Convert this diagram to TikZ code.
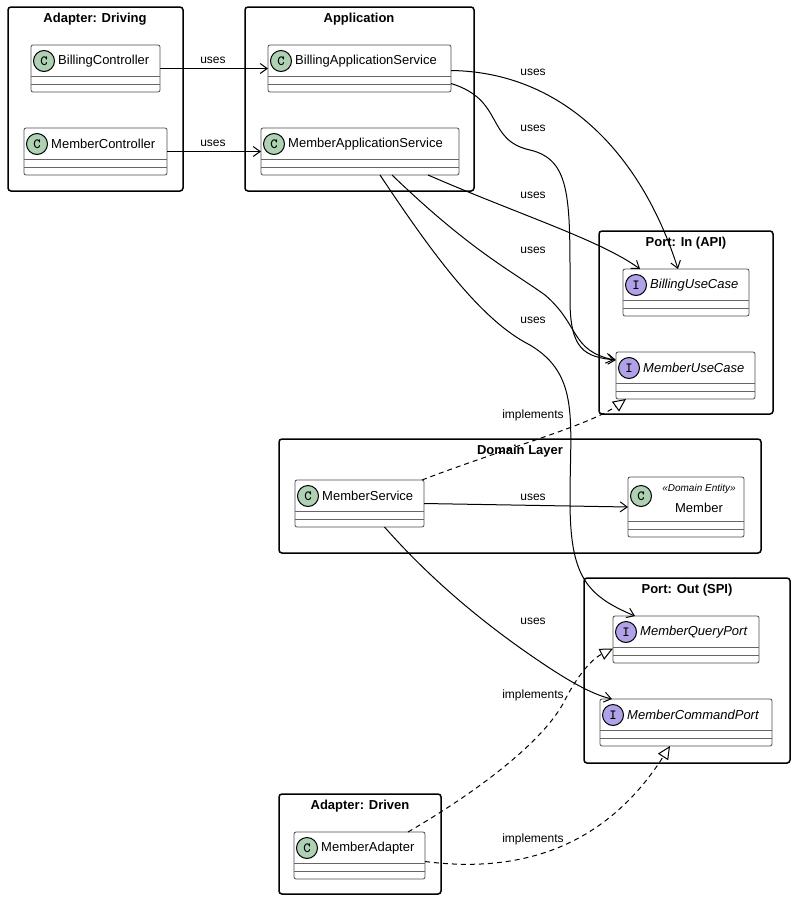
\documentclass[tikz,border=0pt]{standalone}
\usepackage{fontspec}
\setmainfont{Liberation Sans}
\usetikzlibrary{arrows.meta,calc,positioning}
\definecolor{classgreen}{RGB}{173,209,178}
\definecolor{ifacepurple}{RGB}{177,161,231}

\tikzset{
  pkg/.style={draw, line width=1.5pt, rounded corners=3pt},
  pkgtitle/.style={font=\fontsize{13}{15}\selectfont\bfseries},
  classbox/.style={draw=black!70, rounded corners=2pt, inner sep=0, outer sep=0, line width=0.8pt},
  badge/.style={circle, draw, line width=1pt, minimum size=21pt, inner sep=0, font=\fontsize{14}{16}\selectfont\ttfamily\bfseries},
  uses/.style={-{Straight Barb[length=7pt,width=10pt]}, line width=1pt},
  impl/.style={-{Triangle[open,length=13pt,width=12pt]}, dash pattern=on 5pt off 4pt, line width=1pt},
  lbl/.style={font=\fontsize{12}{14}\selectfont}
}

% class box: name, x1, y1, x2, y2, letter, colour, text
\newcommand\umlclass[8]{%
  \node[classbox, minimum width={#4-#2}, minimum height={#5-#3}] (#1) at ({(#2+#4)/2},{(#3+#5)/2}) {};
  \draw[black!60, line width=0.8pt] (#2,#5-16) -- (#4,#5-16);
  \draw[black!60, line width=0.8pt] (#2,#5-8) -- (#4,#5-8);
  \node[badge, fill=#7] (#1-badge) at (#2+13,#3+16) {#6};
  \node[anchor=west, inner sep=0, font=\fontsize{13}{15}\selectfont] (#1-name) at (#2+27,#3+16) {#8};
}

\begin{document}
\begin{tikzpicture}[x=1pt, y=-1pt]
\useasboundingbox (0,0) rectangle (794,900);

% Packages
\draw[pkg] (8,7) rectangle (183,191);
\node[pkgtitle] (drivingtitle) at (95,19) {Adapter: Driving};
\draw[pkg] (245,7) rectangle (474,191);
\node[pkgtitle] (apptitle) at (359,19) {Application};
\draw[pkg] (599,231) rectangle (773,414);
\node[pkgtitle] (intitle) at (686,243) {Port: In (API)};
\draw[pkg] (279,439) rectangle (761,553);
\node[pkgtitle] (domaintitle) at (520,451) {Domain Layer};
\draw[pkg] (584,578) rectangle (790,763);
\node[pkgtitle] (outtitle) at (687,590) {Port: Out (SPI)};
\draw[pkg] (279,794) rectangle (441,894);
\node[pkgtitle] (driventitle) at (360,806) {Adapter: Driven};

% Classes
\umlclass{bc}{31}{45}{160}{92}{C}{classgreen}{BillingController}
\umlclass{mc}{24}{128}{167}{175}{C}{classgreen}{MemberController}
\umlclass{bas}{268}{45}{451}{92}{C}{classgreen}{BillingApplicationService}
\umlclass{mas}{261}{128}{459}{175}{C}{classgreen}{MemberApplicationService}
\umlclass{buc}{623}{269}{749}{316}{I}{ifacepurple}{\textit{BillingUseCase}}
\umlclass{muc}{616}{352}{755}{399}{I}{ifacepurple}{\textit{MemberUseCase}}
\umlclass{ms}{295}{480}{424}{527}{C}{classgreen}{MemberService}
\umlclass{mqp}{613}{616}{759}{663}{I}{ifacepurple}{\textit{MemberQueryPort}}
\umlclass{mcp}{600}{699}{772}{746}{I}{ifacepurple}{\textit{MemberCommandPort}}
\umlclass{ma}{294}{832}{425}{879}{C}{classgreen}{MemberAdapter}

% Member entity with stereotype
\node[classbox, minimum width=116, minimum height=60] (member) at (686,507) {};
\draw[black!60, line width=0.8pt] (628,521) -- (744,521);
\draw[black!60, line width=0.8pt] (628,529) -- (744,529);
\node[badge, fill=classgreen] (member-badge) at (641,496) {C};
\node[font=\fontsize{10}{12}\selectfont\itshape] (member-stereo) at (699,489) {«Domain Entity»};
\node[font=\fontsize{13}{15}\selectfont] (member-name) at (699,508) {Member};

% Uses
\draw[uses] (bc) -- (bas);
\draw[uses] (mc) -- (mas);
\draw[uses] ($(bas.east)+(0,2)$) .. controls (560,72) and (640,150) .. ($(buc.north)+(-8,0)$);
\draw[uses] ($(bas.east)+(0,15)$) .. controls (505,100) and (485,140) .. (530,150)
  .. controls (572,160) and (570,200) .. (570,300) .. controls (570,350) and (585,357) .. ($(muc.north west)+(0,8)$);
\draw[uses] ($(mas.south east)+(-31,0)$) .. controls (520,215) and (600,240) .. ($(buc.north west)+(17,0)$);
\draw[uses] ($(mas.south)+(32,0)$) .. controls (470,250) and (510,270) .. (545,295)
  .. controls (580,325) and (570,350) .. ($(muc.north west)+(-2,8)$);
\draw[uses] ($(mas.south)+(20,0)$) .. controls (430,250) and (480,320) .. (530,345)
  .. controls (580,375) and (570,420) .. (570,500) .. controls (570,575) and (585,595) .. ($(mqp.north west)+(22,0)$);
\draw[uses] (ms.east) -- (member.west);
\draw[uses] ($(ms.south)+(25,0)$) .. controls (440,590) and (500,635) .. (545,665)
  .. controls (575,685) and (595,695) .. ($(mcp.north west)+(12,0)$);

% Implements
\draw[impl] ($(ms.north east)+(-2,0)$) .. controls (500,450) and (590,425) .. ($(muc.south west)+(10,0)$);
\draw[impl] ($(ma.north east)+(-17,0)$) .. controls (480,790) and (545,740) .. (565,700)
  .. controls (575,680) and (590,660) .. ($(mqp.west)+(0,9)$);
\draw[impl] ($(ma.east)+(0,6)$) .. controls (530,875) and (610,840) .. ($(mcp.south)+(-16,0)$);

% Labels
\node[lbl] (l1) at (213,60) {uses};
\node[lbl] (l2) at (213,143) {uses};
\node[lbl] (l3) at (533,72) {uses};
\node[lbl] (l4) at (533,128) {uses};
\node[lbl] (l5) at (533,195) {uses};
\node[lbl] (l6) at (533,250) {uses};
\node[lbl] (l7) at (533,320) {uses};
\node[lbl] (l8) at (533,415) {implements};
\node[lbl] (l9) at (533,497) {uses};
\node[lbl] (l10) at (533,621) {uses};
\node[lbl] (l11) at (533,695) {implements};
\node[lbl] (l12) at (533,839) {implements};
\end{tikzpicture}
\end{document}
